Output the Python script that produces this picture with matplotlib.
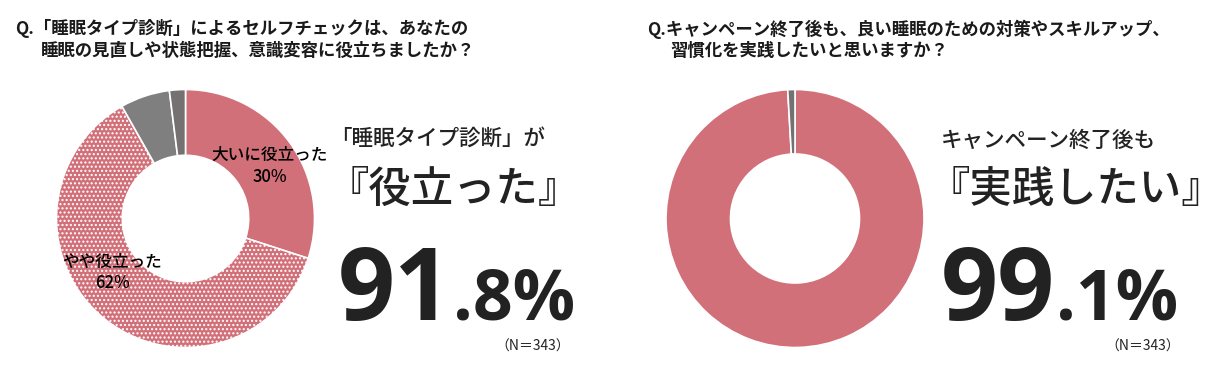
import matplotlib
matplotlib.use("Agg")
import matplotlib.pyplot as plt

plt.rcParams['font.family'] = ['Noto Sans CJK JP', 'DejaVu Sans']
plt.rcParams['hatch.linewidth'] = 1.0

# data
left_labels = ["大いに役立った", "やや役立った", "あまり役立たなかった", "役立たなかった"]
left_values = [30.0, 61.8, 6.2, 2.0]
right_labels = ["実践したい", "実践したくない"]
right_values = [99.1, 0.9]

left_title = "Q.「睡眠タイプ診断」によるセルフチェックは、あなたの"
left_title2 = "睡眠の見直しや状態把握、意識変容に役立ちましたか？"
right_title = "Q.キャンペーン終了後も、良い睡眠のための対策やスキルアップ、"
right_title2 = "習慣化を実践したいと思いますか？"

PINK = "#D2707A"
GREY = "#7F7F7F"
DGREY = "#767171"

W, H = 1230, 371
fig = plt.figure(figsize=(W / 100, H / 100), dpi=100)

def px_ax(cx, cy, r):
    return fig.add_axes([(cx - r) / W, 1 - (cy + r) / H, 2 * r / W, 2 * r / H])

# left donut
axL = px_ax(185.5, 218.5, 129)
wedges, _ = axL.pie(left_values, startangle=90, counterclock=False,
                    colors=[PINK, PINK, GREY, DGREY], radius=1.0,
                    wedgeprops=dict(width=0.51, edgecolor="white", linewidth=1.2))
wedges[1].set_hatch("....")
axL.set_xlim(-1, 1); axL.set_ylim(-1, 1); axL.set_aspect("equal"); axL.axis("off")

# right donut
axR = px_ax(795, 218.5, 129)
axR.pie(right_values, startangle=90, counterclock=False,
        colors=[PINK, DGREY], radius=1.0,
        wedgeprops=dict(width=0.50, edgecolor="white", linewidth=1.2))
axR.set_xlim(-1, 1); axR.set_ylim(-1, 1); axR.set_aspect("equal"); axR.axis("off")

def T(x, y, s, **kw):
    return fig.text(x / W, 1 - y / H, s, **kw)

DARK = "#1a1a1a"
# titles
T(15, 29, left_title, fontsize=12.5, fontweight="bold", va="center", color=DARK)
T(41, 51, left_title2, fontsize=12.5, fontweight="bold", va="center", color=DARK)
T(647, 29, right_title, fontsize=12.5, fontweight="bold", va="center", color=DARK)
T(670, 51, right_title2, fontsize=12.5, fontweight="bold", va="center", color=DARK)

# slice labels
T(270, 155, "大いに役立った", fontsize=12, fontweight="medium", ha="center", va="center", color="black")
T(270, 177, f"{left_values[0]:.0f}%", fontsize=12, fontweight="medium", ha="center", va="center", color="black")
T(112, 262, "やや役立った", fontsize=12, fontweight="medium", ha="center", va="center", color="black")
T(112, 283, f"{left_values[1]:.0f}%", fontsize=12, fontweight="medium", ha="center", va="center", color="black")

# big texts
TXT = "#222222"
T(330, 139, "「睡眠タイプ診断」が", fontsize=15.5, fontweight="medium", va="center", color=TXT)
T(327, 189, "『役立った』", fontsize=30.5, fontweight="medium", va="center", color=TXT)
T(941, 141, "キャンペーン終了後も", fontsize=15.5, fontweight="medium", va="center", color=TXT)
T(928, 189, "『実践したい』", fontsize=30.5, fontweight="medium", va="center", color=TXT)

fig.canvas.draw()
r = fig.canvas.get_renderer()

def big_number(x, base_y, whole, frac):
    t1 = T(x, base_y, whole, fontsize=72, fontweight="bold", va="baseline",
           color=TXT, family=["Open Sans", "DejaVu Sans"])
    bb = t1.get_window_extent(r)
    T(bb.x1 + 1, base_y, frac, fontsize=50, fontweight="bold", va="baseline",
      color=TXT, family=["Open Sans", "DejaVu Sans"])

big_number(338, 320, "91", ".8%")
big_number(941, 320, "99", ".1%")

T(570, 347, "（N＝343）", fontsize=10, ha="right", va="center", color=TXT)
T(1180, 347, "（N＝343）", fontsize=10, ha="right", va="center", color=TXT)

fig.savefig("out.png", dpi=100, facecolor="white")
